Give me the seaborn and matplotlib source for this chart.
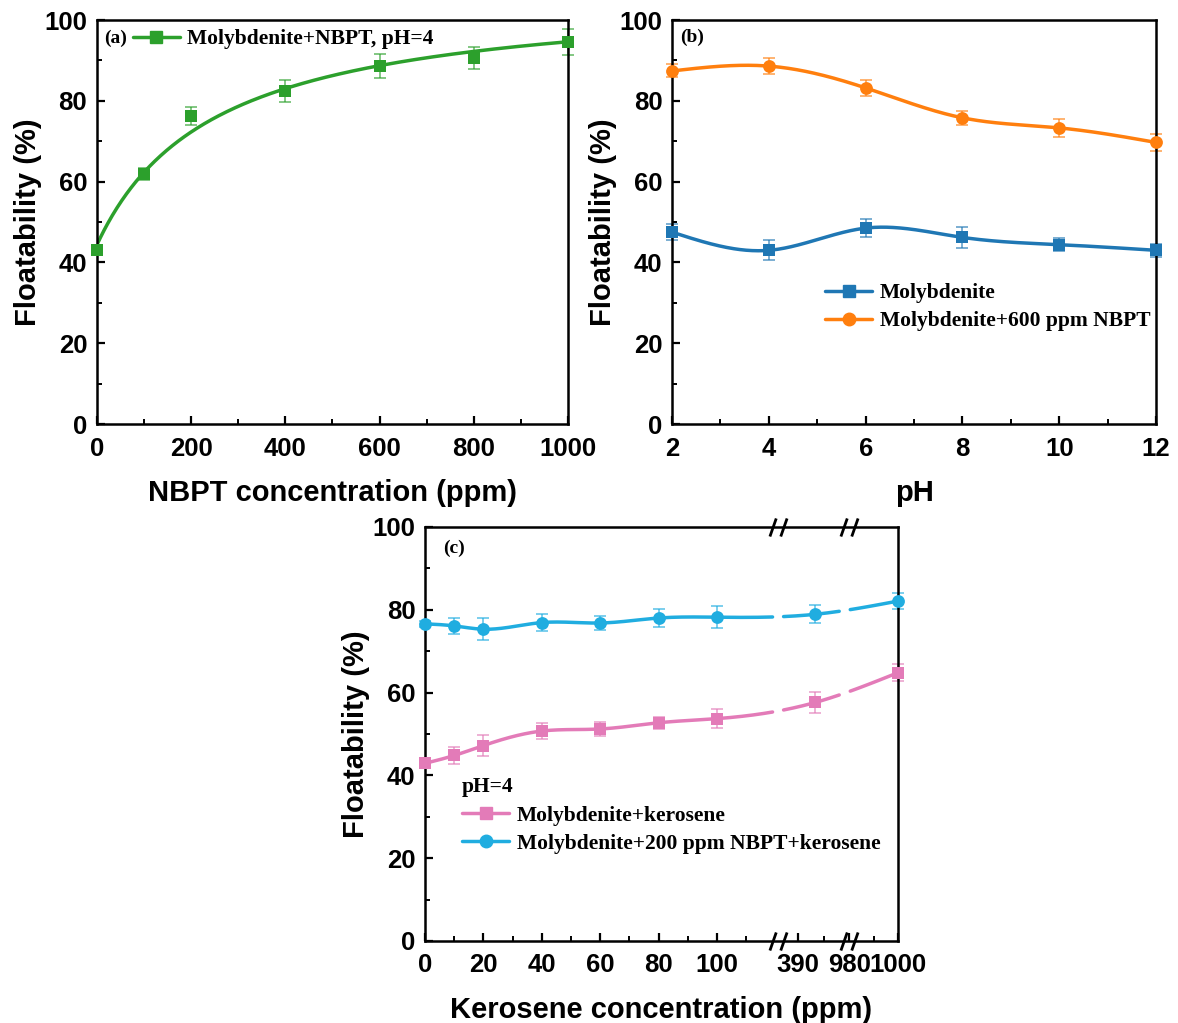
import numpy as np
import pandas as pd
import matplotlib
matplotlib.use("Agg")
import matplotlib.pyplot as plt
from matplotlib.lines import Line2D
from matplotlib.path import Path
from matplotlib.ticker import MultipleLocator, FixedLocator, FixedFormatter
import seaborn as sns

# ---------------- data ----------------
nbpt_conc = [0, 100, 200, 400, 600, 800, 1000]
nbpt_float = [43.1, 61.9, 76.3, 82.4, 88.6, 90.7, 94.6]
nbpt_err = [0.6, 1.6, 2.3, 2.7, 2.9, 2.7, 3.3]

ph_values = [2, 4, 6, 8, 10, 12]
moly_float = [47.5, 43.0, 48.5, 46.2, 44.4, 43.0]
moly_err = [1.9, 2.5, 2.2, 2.6, 1.6, 1.6]
moly_nbpt_float = [87.4, 88.6, 83.2, 75.8, 73.3, 69.7]
moly_nbpt_err = [1.6, 1.9, 2.0, 1.8, 2.3, 2.2]

kero_conc = [0, 10, 20, 40, 60, 80, 100, 400, 1000]
kero_float = [42.9, 44.8, 47.2, 50.7, 51.2, 52.7, 53.7, 57.6, 64.8]
kero_err = [0.8, 2.1, 2.6, 2.0, 1.7, 1.5, 2.3, 2.5, 2.1]
kero_nbpt_float = [76.6, 76.1, 75.3, 76.9, 76.8, 78.0, 78.2, 78.9, 82.1]
kero_nbpt_err = [0.8, 2.0, 2.6, 2.0, 1.8, 2.1, 2.6, 2.2, 2.0]

kero_major_ticks = [0, 20, 40, 60, 80, 100, 390, 980, 1000]
kero_minor_ticks = [10, 30, 50, 70, 90, 110, 405, 990]
kero_tick_labels = ["0", "20", "40", "60", "80", "100", "390", "980", "1000"]

# broken axis mapping (value -> display position)
BRK_VAL = [-1000, 0, 120.9, 378.5, 419.3, 979.6, 1000, 2000]
BRK_POS = [-1000, 0, 120.9, 120.95, 145.0, 145.05, 162, 992]
BREAK_VALUES = [120.9, 979.6]
LINE_GAPS = [120.9, 143.8]

C_GREEN = "#2ca02c"
C_BLUE = "#1f77b4"
C_ORANGE = "#ff7f0e"
C_PINK = "#e37bb8"
C_CYAN = "#20ade0"

# ---------------- style ----------------
sns.set_theme(style="ticks")
plt.rcParams["font.family"] = ["Liberation Sans", "DejaVu Sans"]
plt.rcParams["font.weight"] = "bold"
plt.rcParams["axes.labelweight"] = "bold"
plt.rcParams["axes.linewidth"] = 1.8
plt.rcParams["text.color"] = "black"
plt.rcParams["axes.labelcolor"] = "black"
plt.rcParams["xtick.color"] = "black"
plt.rcParams["ytick.color"] = "black"

SERIF = ["Liberation Serif", "DejaVu Serif"]
LEG_FONT = {"family": SERIF, "weight": "bold", "size": 15.5}


def natural_spline(x, y, xs):
    x = np.asarray(x, float); y = np.asarray(y, float)
    n = len(x); h = np.diff(x)
    A = np.zeros((n, n)); r = np.zeros(n)
    A[0, 0] = A[-1, -1] = 1
    for i in range(1, n - 1):
        A[i, i - 1] = h[i - 1]; A[i, i] = 2 * (h[i - 1] + h[i]); A[i, i + 1] = h[i]
        r[i] = 3 * ((y[i + 1] - y[i]) / h[i] - (y[i] - y[i - 1]) / h[i - 1])
    c = np.linalg.solve(A, r)
    b = np.diff(y) / h - h * (2 * c[:-1] + c[1:]) / 3
    d = np.diff(c) / (3 * h)
    idx = np.clip(np.searchsorted(x, xs) - 1, 0, n - 2)
    dx = xs - x[idx]
    return y[idx] + b[idx] * dx + c[idx] * dx ** 2 + d[idx] * dx ** 3


def style_axes(ax):
    for s in ax.spines.values():
        s.set_linewidth(1.8); s.set_color("black")
    ax.tick_params(which="major", direction="in", length=6, width=1.6, pad=9,
                   labelsize=18.5, top=False, right=False, colors="black")
    ax.tick_params(which="minor", direction="in", length=3.5, width=1.4,
                   top=False, right=False)
    ax.tick_params(axis="y", which="major", pad=7)
    ax.set_ylim(0, 100)
    ax.yaxis.set_major_locator(MultipleLocator(20))
    ax.yaxis.set_minor_locator(MultipleLocator(10))
    for lab in ax.get_xticklabels() + ax.get_yticklabels():
        lab.set_fontweight("bold")
    ax.set_ylabel("Floatability (%)", fontsize=21, fontweight="bold", labelpad=2,
                  color="black")
    ax.grid(False)


def draw_series(ax, x, y, err, color, marker, size):
    ax.errorbar(x, y, yerr=err, fmt="none", ecolor=color, elinewidth=1.1,
                capsize=4, capthick=1.1, alpha=0.75, zorder=2, clip_on=False)
    sns.scatterplot(x=x, y=y, ax=ax, marker=marker, s=size, color=color,
                    linewidth=0, zorder=4, legend=False)
    for coll in ax.collections:
        coll.set_clip_on(False)


def handle(color, marker, ms):
    return Line2D([0], [0], color=color, lw=2.5, marker=marker, ms=ms)


fig = plt.figure(figsize=(11.78, 10.23), dpi=100)

# ---------------- (a) ----------------
ax = fig.add_axes([0.0823, 0.5855, 0.3998, 0.3949])
K_HALF = 250.0  # Langmuir-type fit: y = a + b * x / (K + x)
xa = np.asarray(nbpt_conc, float)
basis = np.column_stack([np.ones_like(xa), xa / (K_HALF + xa)])
coef, *_ = np.linalg.lstsq(basis, np.asarray(nbpt_float), rcond=None)
xd = np.linspace(0, 1000, 400)
yd = np.column_stack([np.ones_like(xd), xd / (K_HALF + xd)]) @ coef
sns.lineplot(x=xd, y=yd, ax=ax, color=C_GREEN, lw=2.5, sort=False, estimator=None)
draw_series(ax, nbpt_conc, nbpt_float, nbpt_err, C_GREEN, "s", 68)
ax.set_xlim(0, 1000)
ax.xaxis.set_major_locator(MultipleLocator(200))
ax.xaxis.set_minor_locator(MultipleLocator(100))
style_axes(ax)
ax.set_xlabel("NBPT concentration (ppm)", fontsize=21, fontweight="bold", labelpad=13)
ax.text(0.015, 0.955, "(a)", transform=ax.transAxes, ha="left", va="center",
        fontdict={"family": SERIF, "weight": "bold", "size": 14})
ax.legend([handle(C_GREEN, "s", 8)], ["Molybdenite+NBPT, pH=4"], prop=LEG_FONT,
          loc="center left", bbox_to_anchor=(0.076, 0.952), frameon=False,
          borderaxespad=0, borderpad=0, handlelength=2.2, handletextpad=0.3)

# ---------------- (b) ----------------
ax = fig.add_axes([0.5705, 0.5855, 0.4109, 0.3949])
xd = np.linspace(2, 12, 400)
sns.lineplot(x=xd, y=natural_spline(ph_values, moly_float, xd), ax=ax, color=C_BLUE,
             lw=2.5, sort=False, estimator=None)
sns.lineplot(x=xd, y=natural_spline(ph_values, moly_nbpt_float, xd), ax=ax, color=C_ORANGE,
             lw=2.5, sort=False, estimator=None)
draw_series(ax, ph_values, moly_float, moly_err, C_BLUE, "s", 68)
draw_series(ax, ph_values, moly_nbpt_float, moly_nbpt_err, C_ORANGE, "o", 85)
ax.set_xlim(2, 12)
ax.xaxis.set_major_locator(MultipleLocator(2))
ax.xaxis.set_minor_locator(MultipleLocator(1))
style_axes(ax)
ax.set_xlabel("pH", fontsize=21, fontweight="bold", labelpad=13)
ax.text(0.017, 0.958, "(b)", transform=ax.transAxes, ha="left", va="center",
        fontdict={"family": SERIF, "weight": "bold", "size": 14})
ax.legend([handle(C_BLUE, "s", 8), handle(C_ORANGE, "o", 9)],
          ["Molybdenite", "Molybdenite+600 ppm NBPT"], prop=LEG_FONT,
          loc="center left", bbox_to_anchor=(0.316, 0.289), frameon=False,
          borderaxespad=0, borderpad=0, handlelength=2.2, handletextpad=0.35,
          labelspacing=0.38)

# ---------------- (c) ----------------
ax = fig.add_axes([0.3608, 0.0802, 0.4015, 0.4047])


def fwd(v):
    return np.interp(v, BRK_VAL, BRK_POS)


def inv(p):
    return np.interp(p, BRK_POS, BRK_VAL)


ax.set_xscale("function", functions=(fwd, inv))
pos_pts = fwd(np.asarray(kero_conc, float))
pos_dense = np.linspace(0, fwd(1000), 1200)
gap_half = 1.8
edges = [0] + [g for g in LINE_GAPS] + [fwd(1000)]
for series, color in [(kero_float, C_PINK), (kero_nbpt_float, C_CYAN)]:
    yd = natural_spline(pos_pts, series, pos_dense)
    for k in range(len(edges) - 1):
        lo = edges[k] + (gap_half if k > 0 else 0)
        hi = edges[k + 1] - (gap_half if k < len(edges) - 2 else 0)
        m = (pos_dense >= lo) & (pos_dense <= hi)
        sns.lineplot(x=inv(pos_dense[m]), y=yd[m], ax=ax, color=color, lw=2.5,
                     sort=False, estimator=None)
draw_series(ax, kero_conc, kero_float, kero_err, C_PINK, "s", 68)
draw_series(ax, kero_conc, kero_nbpt_float, kero_nbpt_err, C_CYAN, "o", 85)
ax.set_xlim(0, 1000)
ax.xaxis.set_major_locator(FixedLocator(kero_major_ticks))
ax.xaxis.set_major_formatter(FixedFormatter(kero_tick_labels))
ax.xaxis.set_minor_locator(FixedLocator(kero_minor_ticks))
style_axes(ax)
ax.set_xlabel("Kerosene concentration (ppm)", fontsize=21, fontweight="bold", labelpad=13)
ax.text(0.038, 0.949, "(c)", transform=ax.transAxes, ha="left", va="center",
        fontdict={"family": SERIF, "weight": "bold", "size": 14})
ax.legend([handle(C_PINK, "s", 8), handle(C_CYAN, "o", 9)],
          ["Molybdenite+kerosene", "Molybdenite+200 ppm NBPT+kerosene"],
          prop=LEG_FONT, title="pH=4", title_fontproperties=LEG_FONT,
          alignment="left", loc="center left", bbox_to_anchor=(0.078, 0.303),
          frameon=False, borderaxespad=0, borderpad=0, handlelength=2.2,
          handletextpad=0.35, labelspacing=0.38)

# break marks on top and bottom spines
slash = Path([(-0.95, -1), (-0.25, 1), (0.25, -1), (0.95, 1)],
             [Path.MOVETO, Path.LINETO, Path.MOVETO, Path.LINETO])
for bv in BREAK_VALUES:
    for yy in (0, 1):
        ax.plot([bv], [yy], transform=ax.get_xaxis_transform(), marker=slash,
                ms=13, mew=2.0, color="black", fillstyle="none", linestyle="none",
                clip_on=False, zorder=6)

fig.savefig("out.png", dpi=100)
